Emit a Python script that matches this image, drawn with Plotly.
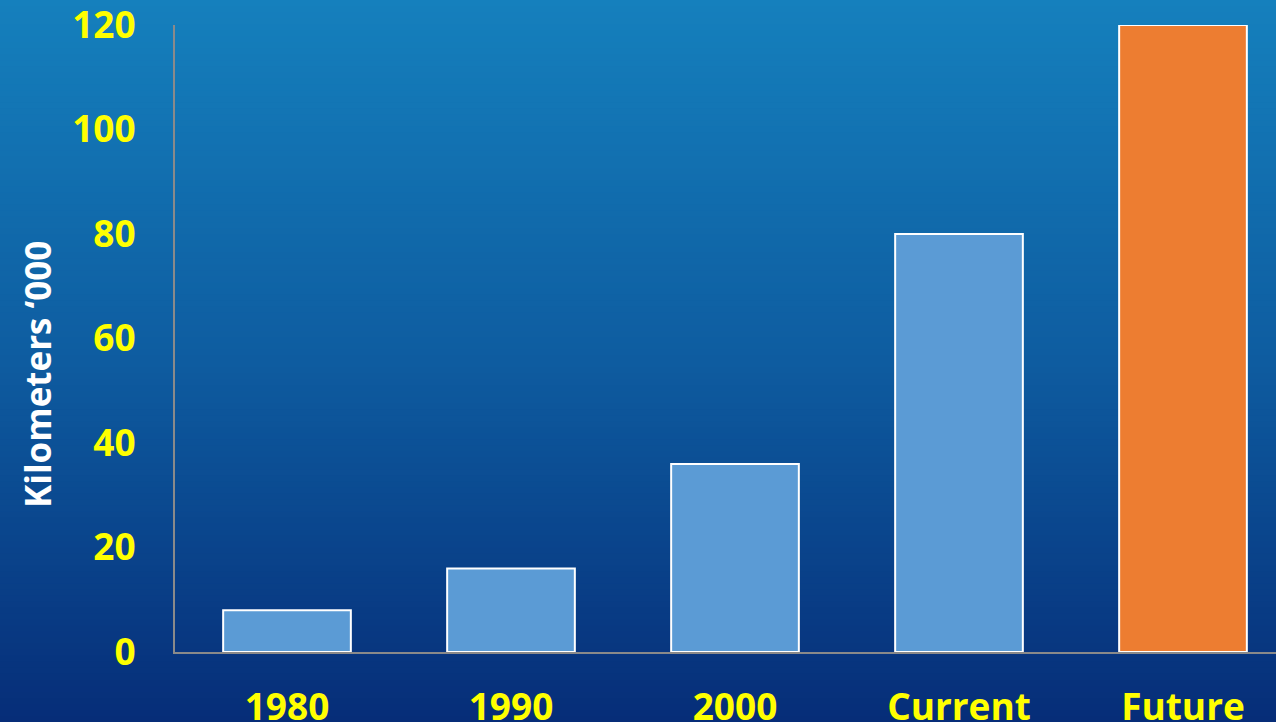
import plotly.graph_objects as go

categories = ["1980", "1990", "2000", "Current", "Future"]
values = [8, 16, 36, 80, 120]
bar_colors = ["#5B9BD5", "#5B9BD5", "#5B9BD5", "#5B9BD5", "#ED7D31"]
y_ticks = [0, 20, 40, 60, 80, 100, 120]
y_title = "Kilometers \u2018000"

W, H = 1276, 722
ML, MR, MT, MB = 175, 0, 25, 70
pw, ph = W - ML - MR, H - MT - MB

fig = go.Figure()
fig.add_trace(go.Bar(
    x=categories, y=values,
    marker=dict(color=bar_colors, line=dict(color="white", width=2)),
    width=0.57,
))

# vertical gradient background via stripes
top = (21, 128, 189)
mid = (14, 92, 160)
bot = (6, 45, 120)
def lerp(a, b, t):
    return tuple(int(round(a[i] + (b[i] - a[i]) * t)) for i in range(3))
n = 120
shapes = []
x0 = -ML / pw
for i in range(n):
    py0 = H * i / n
    py1 = H * (i + 1) / n + 1
    t = (i + 0.5) / n
    c = lerp(top, mid, t * 2) if t < 0.5 else lerp(mid, bot, (t - 0.5) * 2)
    y_top = (H - MB - py0) / ph
    y_bot = (H - MB - py1) / ph
    shapes.append(dict(type="rect", xref="paper", yref="paper", x0=x0, x1=1.01,
                       y0=y_bot, y1=y_top, fillcolor="rgb(%d,%d,%d)" % c,
                       line=dict(width=0), layer="below"))

fig.update_layout(
    width=W, height=H,
    margin=dict(l=ML, r=MR, t=MT, b=MB, pad=0, autoexpand=False),
    paper_bgcolor="#0A3A86",
    plot_bgcolor="rgba(0,0,0,0)",
    shapes=shapes,
    showlegend=False,
    bargap=0.43,
    font=dict(family="Open Sans", color="#FFFF00"),
    xaxis=dict(
        range=[-0.5, 4.5 - 19 / 224],
        automargin=False, ticklabeloverflow="allow",
        showline=True, linecolor="#8A8A8A", linewidth=2,
        showgrid=False, zeroline=False,
        tickfont=dict(family="Open Sans", size=37, color="#FFFF00", weight="bold"),
        ticks="outside", ticklen=22, tickcolor="rgba(0,0,0,0)",
    ),
    yaxis=dict(
        range=[0, 120], tickvals=y_ticks,
        automargin=False, ticklabeloverflow="allow",
        showline=True, linecolor="#8A8A8A", linewidth=2,
        showgrid=False, zeroline=False,
        tickfont=dict(family="Open Sans", size=37, color="#FFFF00", weight="bold"),
        ticks="outside", ticklen=30, tickcolor="rgba(0,0,0,0)",
    ),
    annotations=[dict(
        text=y_title, textangle=-90, showarrow=False,
        xref="paper", yref="paper",
        x=(37 - ML) / pw, y=(H - MB - 375) / ph,
        xanchor="center", yanchor="middle",
        font=dict(family="Open Sans", size=35, color="white", weight="bold"),
    )],
)

fig.write_html("out.html", config={"displayModeBar": False},
               post_script="document.body.style.margin='0';document.body.style.overflow='hidden';")
